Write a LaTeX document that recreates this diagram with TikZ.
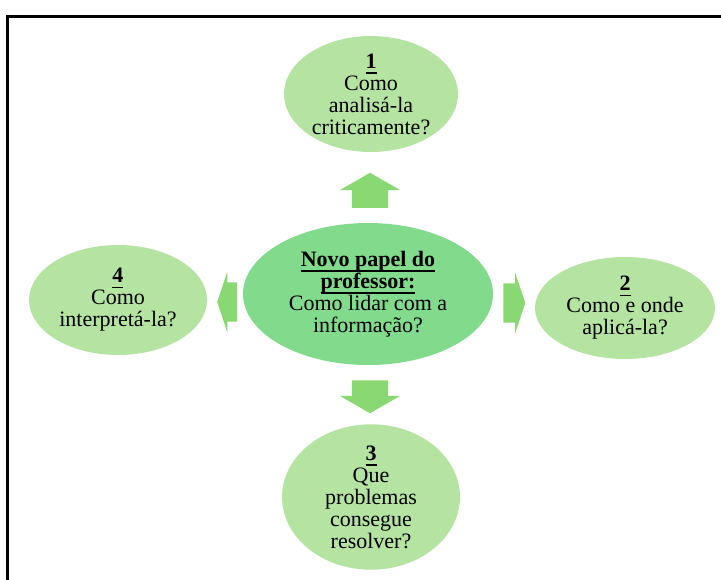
\documentclass[tikz,border=0pt]{standalone}
\usepackage{fontspec}
\setmainfont{Liberation Serif}
\usetikzlibrary{shapes.geometric,shapes.arrows}
\definecolor{outergreen}{HTML}{B5E3A2}
\definecolor{centergreen}{HTML}{82DA8D}
\definecolor{arrowgreen}{HTML}{8AD873}
% underline at a fixed depth, crossing the descenders
\newcommand\uword[1]{\setbox0\hbox{#1}\rlap{\rule[-5.5pt]{\wd0}{1.5pt}}\box0}
\begin{document}
\begin{tikzpicture}[x=1pt,y=-1pt,
  idea node/.style={ellipse,fill=outergreen,inner sep=0pt,align=center,
    font=\fontsize{22}{22}\selectfont},
  main node/.style={idea node,fill=centergreen},
  block arrow/.style={single arrow,fill=arrowgreen,inner xsep=0pt,minimum width=0pt}]

  \useasboundingbox (0,0) rectangle (721,579);
  \clip (0,0) rectangle (721,579);
  \draw[line width=3pt] (7.5,16) rectangle (760,620);

  \node[main node,minimum width=250,minimum height=142] (0) at (368,294)
    {\uword{\textbf{Novo papel do}}\\\uword{\textbf{professor:}}\\Como lidar com a\\informação?};
  \node[idea node,minimum width=174,minimum height=116] (1) at (371,94)
    {\uword{\textbf{1}}\\Como\\analisá-la\\criticamente?};
  \node[idea node,minimum width=180,minimum height=102] (2) at (625,308)
    {\uword{\textbf{2}}\\Como e onde\\aplicá-la?};
  \node[idea node,minimum width=178,minimum height=134] (3) at (371,497)
    {\uword{\textbf{3}}\\Que\\problemas\\consegue\\resolver?};
  \node[idea node,minimum width=178,minimum height=110] (4) at (118,300)
    {\uword{\textbf{4}}\\Como\\interpretá-la?};

  % block arrows pointing out of the centre
  \node[block arrow,rotate=90,inner ysep=18pt,single arrow head extend=12pt,
    single arrow tip angle=120,minimum height=35] (a1) at (370,195.5) {};
  \node[block arrow,inner ysep=19.5pt,single arrow head extend=10.5pt,
    single arrow tip angle=143,minimum height=22] (a2) at (511,303) {};
  \node[block arrow,rotate=-90,inner ysep=18pt,single arrow head extend=12pt,
    single arrow tip angle=120,minimum height=33] (a3) at (370,391.5) {};
  \node[block arrow,rotate=180,inner ysep=19.5pt,single arrow head extend=10.5pt,
    single arrow tip angle=143,minimum height=20] (a4) at (230.5,302) {};
\end{tikzpicture}
\end{document}
